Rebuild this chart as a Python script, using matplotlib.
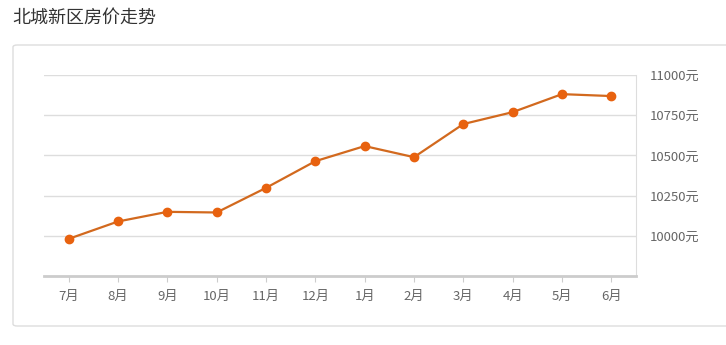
import matplotlib.pyplot as plt
from matplotlib.patches import FancyBboxPatch

plt.rcParams['font.family'] = ['Noto Sans CJK SC', 'DejaVu Sans']

months = ["7月", "8月", "9月", "10月", "11月", "12月", "1月", "2月", "3月", "4月", "5月", "6月"]
prices = [9981, 10089, 10149, 10145, 10298, 10464, 10558, 10489, 10695, 10769, 10881, 10869]
yticks = [10000, 10250, 10500, 10750, 11000]

fig = plt.figure(figsize=(7.26, 3.45), dpi=100)

# outer card, behind the axes
box = FancyBboxPatch((13 / 726, 19 / 345), 740 / 726, 281 / 345,
                     boxstyle="round,pad=0,rounding_size=0.006",
                     transform=fig.transFigure, facecolor="white",
                     edgecolor="#dddddd", linewidth=1, clip_on=False, zorder=-5)
fig.patches.append(box)

fig.text(12 / 726, 1 - 18 / 345, "北城新区房价走势", fontsize=13, color="#333333",
         va="center", ha="left")

ax = fig.add_axes([44 / 726, 69 / 345, 592 / 726, 201 / 345])
ax.set_zorder(2)
ax.set_facecolor("none")
x = range(len(months))
ax.plot(x, prices, color="#d2691e", linewidth=1.6, marker="o", markersize=6,
        markerfacecolor="#e8620f", markeredgecolor="#e8620f", zorder=3)

ax.set_xlim(-0.5, len(months) - 0.5)
ax.set_ylim(9750, 11000)
ax.set_xticks(list(x))
ax.set_xticklabels(months)
ax.set_yticks(yticks)
ax.set_yticklabels([f"{v}元" for v in yticks])
ax.yaxis.tick_right()
ax.tick_params(axis="y", length=0, pad=10, labelsize=9.5, labelcolor="#666666")
ax.tick_params(axis="x", length=4, color="#cccccc", pad=6, labelsize=9.5, labelcolor="#666666")
ax.grid(axis="y", color="#dddddd", linewidth=1)
ax.set_axisbelow(True)

for s in ["left", "top"]:
    ax.spines[s].set_visible(False)
ax.spines["right"].set_color("#dddddd")
ax.spines["bottom"].set_color("#cccccc")
ax.spines["bottom"].set_linewidth(2)

fig.savefig("out.png", dpi=100)
